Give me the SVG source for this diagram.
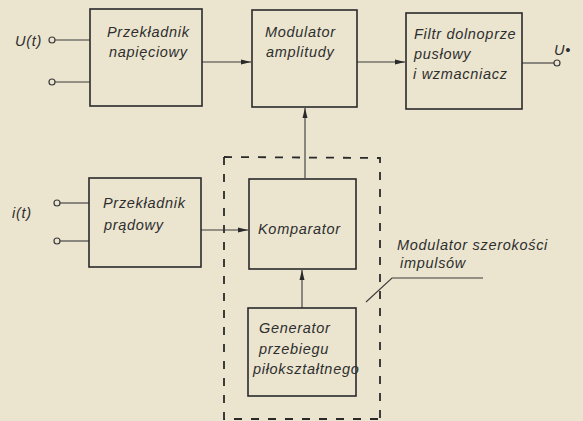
<svg xmlns="http://www.w3.org/2000/svg" width="583" height="421" viewBox="0 0 583 421">
<defs>
<style>
.box{fill:none;stroke:#2a2a2a;stroke-width:1.6}
.ln{fill:none;stroke:#3a3a3a;stroke-width:1.1}
.dash{fill:none;stroke:#2a2a2a;stroke-width:1.8;stroke-dasharray:8 9}
.term{fill:#ebe5d0;stroke:#3a3a3a;stroke-width:1.2}
text{font-family:"Liberation Sans",Arial,sans-serif;font-style:italic;font-size:14.5px;letter-spacing:0.7px;fill:#2e2e2e}
</style>
<marker id="ah" viewBox="0 0 10 6" refX="10" refY="3" markerWidth="10" markerHeight="6" markerUnits="userSpaceOnUse" orient="auto">
<path d="M0,0.5 L10,3 L0,5.5 Z" fill="#2a2a2a"/>
</marker>
</defs>
<rect width="583" height="421" fill="#ebe5d0"/>

<g id="connectors">
<line class="ln" x1="202" y1="62" x2="251" y2="62" marker-end="url(#ah)"/>
<line class="ln" x1="357" y1="62" x2="405" y2="62" marker-end="url(#ah)"/>
<line class="ln" x1="201" y1="230" x2="248" y2="230" marker-end="url(#ah)"/>
<line class="ln" x1="302" y1="308" x2="302" y2="270" marker-end="url(#ah)"/>
<line class="ln" x1="305" y1="178" x2="305" y2="108" marker-end="url(#ah)"/>
<line class="ln" x1="55" y1="40" x2="90" y2="40"/>
<line class="ln" x1="55" y1="82" x2="90" y2="82"/>
<line class="ln" x1="60" y1="203" x2="89" y2="203"/>
<line class="ln" x1="60" y1="241" x2="89" y2="241"/>
<line class="ln" x1="522" y1="63" x2="554" y2="63"/>
<circle class="term" cx="52" cy="40" r="3"/>
<circle class="term" cx="52" cy="82" r="3"/>
<circle class="term" cx="57" cy="203" r="3"/>
<circle class="term" cx="57" cy="241" r="3"/>
<circle class="term" cx="557" cy="63" r="3"/>
<polyline class="ln" points="483,278 392,278 366,302"/>
</g>

<g id="pwm-group">
<path class="dash" d="M224,157 L224,419 L380,419 M224,157 L380,158 L380,419"/>
</g>

<g id="labels">
<text x="15" y="46">U(t)</text>
<text x="12" y="218">i(t)</text>
<text x="554" y="55">U•</text>
<text x="397" y="250">Modulator szerokości</text>
<text x="400" y="268">impulsów</text>
</g>

<g id="n-przekladnik-napieciowy">
<rect class="box" x="90" y="9" width="112" height="97"/>
<text x="107" y="37">Przekładnik</text>
<text x="109" y="57">napięciowy</text>
</g>

<g id="n-modulator-amplitudy">
<rect class="box" x="252" y="10" width="105" height="97"/>
<text x="265" y="37">Modulator</text>
<text x="266" y="57">amplitudy</text>
</g>

<g id="n-filtr">
<rect class="box" x="406" y="13" width="116" height="96"/>
<text x="414" y="39">Filtr dolnoprze</text>
<text x="414" y="59">pusłowy</text>
<text x="413" y="79">i wzmacniacz</text>
</g>

<g id="n-przekladnik-pradowy">
<rect class="box" x="89" y="178" width="112" height="89"/>
<text x="103" y="208">Przekładnik</text>
<text x="104" y="230">prądowy</text>
</g>

<g id="n-komparator">
<rect class="box" x="249" y="179" width="107" height="90"/>
<text x="258" y="234">Komparator</text>
</g>

<g id="n-generator">
<rect class="box" x="248" y="308" width="108" height="88"/>
<text x="259" y="333">Generator</text>
<text x="259" y="354">przebiegu</text>
<text x="253" y="374" font-size="13.5" letter-spacing="-0.2">piłokształtnego</text>
</g>
</svg>
